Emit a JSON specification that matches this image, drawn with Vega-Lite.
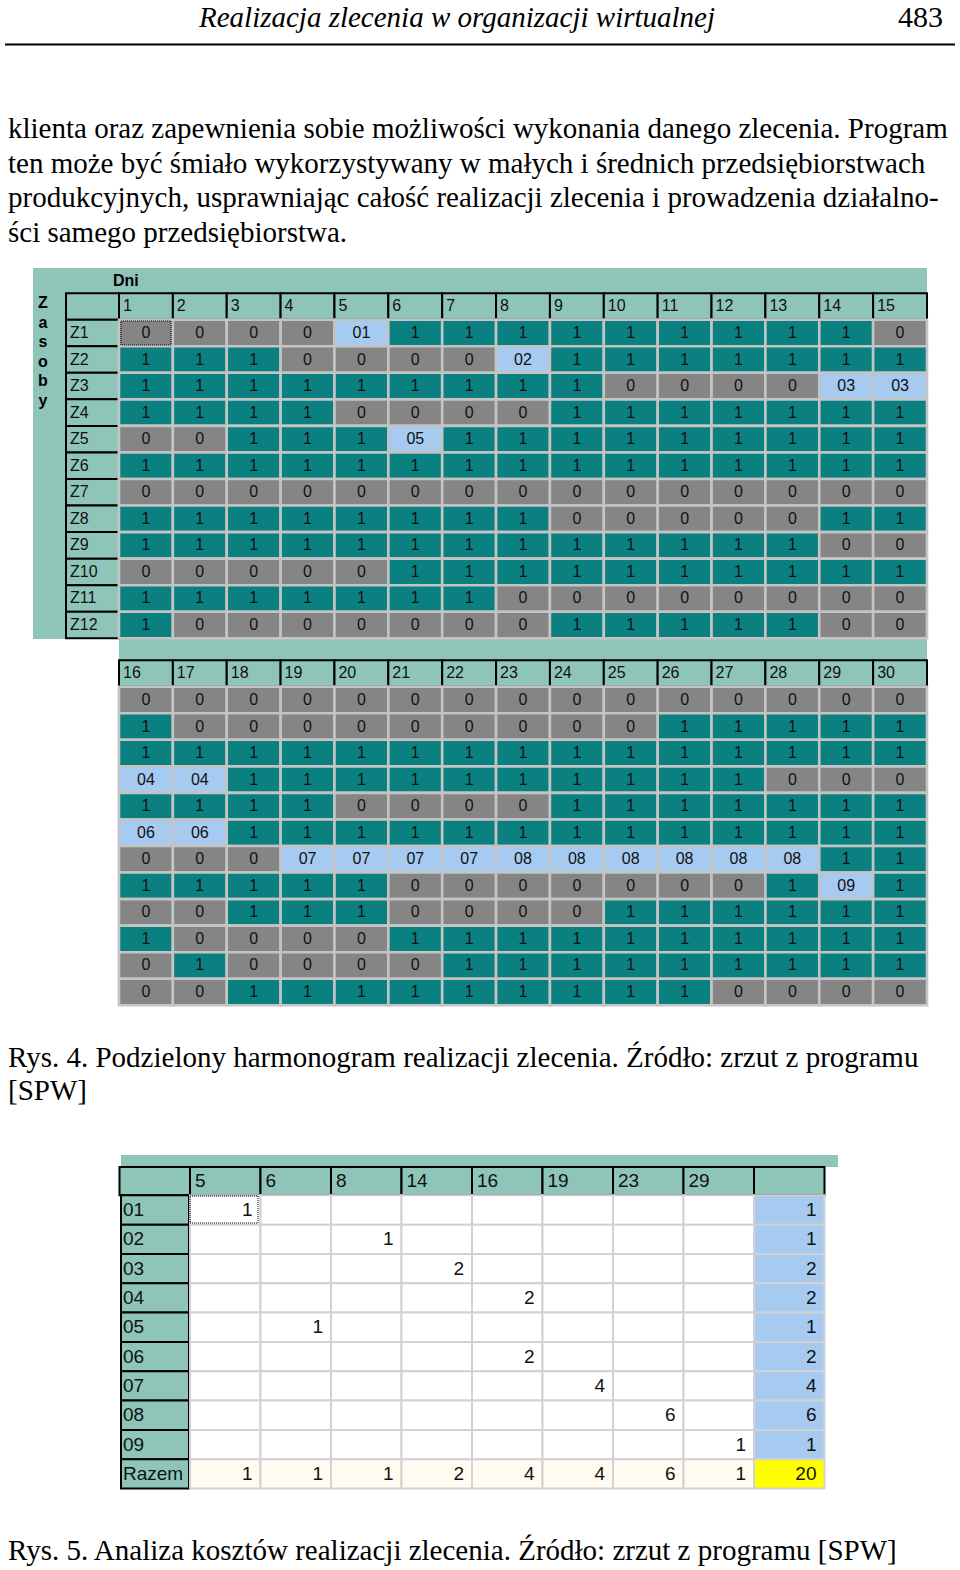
{
"$schema": "https://vega.github.io/schema/vega-lite/v6.json",
"width": 960, "height": 1570,
"autosize": {"type": "fit", "contains": "padding"},
"padding": 0,
"background": "#ffffff",
"config": {"view": {"stroke": null}, "axis": {"disable": true}, "legend": {"disable": true}, "text": {"font": "Liberation Sans"}},
"resolve": {"scale": {"x": "independent", "y": "independent"}},
"datasets": {
"para": [
{"n": 1, "t": "klienta oraz zapewnienia sobie możliwości wykonania danego zlecenia. Program"},
{"n": 2, "t": "ten może być śmiało wykorzystywany w małych i średnich przedsiębiorstwach"},
{"n": 3, "t": "produkcyjnych, usprawniając całość realizacji zlecenia i prowadzenia działalno-"},
{"n": 4, "t": "ści samego przedsiębiorstwa."}
],
"cap4": [
{"n": 1, "t": "Rys. 4. Podzielony harmonogram realizacji zlecenia. Źródło: zrzut z programu"},
{"n": 2, "t": "[SPW]"}
],
"zasoby": [{"i": 1, "ch": "Z"}, {"i": 2, "ch": "a"}, {"i": 3, "ch": "s"}, {"i": 4, "ch": "o"}, {"i": 5, "ch": "b"}, {"i": 6, "ch": "y"}],
"sched": [
{"res":"Z1","day":1,"val":"0"},{"res":"Z1","day":2,"val":"0"},{"res":"Z1","day":3,"val":"0"},{"res":"Z1","day":4,"val":"0"},{"res":"Z1","day":5,"val":"01"},{"res":"Z1","day":6,"val":"1"},{"res":"Z1","day":7,"val":"1"},{"res":"Z1","day":8,"val":"1"},{"res":"Z1","day":9,"val":"1"},{"res":"Z1","day":10,"val":"1"},{"res":"Z1","day":11,"val":"1"},{"res":"Z1","day":12,"val":"1"},{"res":"Z1","day":13,"val":"1"},{"res":"Z1","day":14,"val":"1"},{"res":"Z1","day":15,"val":"0"},
{"res":"Z1","day":16,"val":"0"},{"res":"Z1","day":17,"val":"0"},{"res":"Z1","day":18,"val":"0"},{"res":"Z1","day":19,"val":"0"},{"res":"Z1","day":20,"val":"0"},{"res":"Z1","day":21,"val":"0"},{"res":"Z1","day":22,"val":"0"},{"res":"Z1","day":23,"val":"0"},{"res":"Z1","day":24,"val":"0"},{"res":"Z1","day":25,"val":"0"},{"res":"Z1","day":26,"val":"0"},{"res":"Z1","day":27,"val":"0"},{"res":"Z1","day":28,"val":"0"},{"res":"Z1","day":29,"val":"0"},{"res":"Z1","day":30,"val":"0"},
{"res":"Z2","day":1,"val":"1"},{"res":"Z2","day":2,"val":"1"},{"res":"Z2","day":3,"val":"1"},{"res":"Z2","day":4,"val":"0"},{"res":"Z2","day":5,"val":"0"},{"res":"Z2","day":6,"val":"0"},{"res":"Z2","day":7,"val":"0"},{"res":"Z2","day":8,"val":"02"},{"res":"Z2","day":9,"val":"1"},{"res":"Z2","day":10,"val":"1"},{"res":"Z2","day":11,"val":"1"},{"res":"Z2","day":12,"val":"1"},{"res":"Z2","day":13,"val":"1"},{"res":"Z2","day":14,"val":"1"},{"res":"Z2","day":15,"val":"1"},
{"res":"Z2","day":16,"val":"1"},{"res":"Z2","day":17,"val":"0"},{"res":"Z2","day":18,"val":"0"},{"res":"Z2","day":19,"val":"0"},{"res":"Z2","day":20,"val":"0"},{"res":"Z2","day":21,"val":"0"},{"res":"Z2","day":22,"val":"0"},{"res":"Z2","day":23,"val":"0"},{"res":"Z2","day":24,"val":"0"},{"res":"Z2","day":25,"val":"0"},{"res":"Z2","day":26,"val":"1"},{"res":"Z2","day":27,"val":"1"},{"res":"Z2","day":28,"val":"1"},{"res":"Z2","day":29,"val":"1"},{"res":"Z2","day":30,"val":"1"},
{"res":"Z3","day":1,"val":"1"},{"res":"Z3","day":2,"val":"1"},{"res":"Z3","day":3,"val":"1"},{"res":"Z3","day":4,"val":"1"},{"res":"Z3","day":5,"val":"1"},{"res":"Z3","day":6,"val":"1"},{"res":"Z3","day":7,"val":"1"},{"res":"Z3","day":8,"val":"1"},{"res":"Z3","day":9,"val":"1"},{"res":"Z3","day":10,"val":"0"},{"res":"Z3","day":11,"val":"0"},{"res":"Z3","day":12,"val":"0"},{"res":"Z3","day":13,"val":"0"},{"res":"Z3","day":14,"val":"03"},{"res":"Z3","day":15,"val":"03"},
{"res":"Z3","day":16,"val":"1"},{"res":"Z3","day":17,"val":"1"},{"res":"Z3","day":18,"val":"1"},{"res":"Z3","day":19,"val":"1"},{"res":"Z3","day":20,"val":"1"},{"res":"Z3","day":21,"val":"1"},{"res":"Z3","day":22,"val":"1"},{"res":"Z3","day":23,"val":"1"},{"res":"Z3","day":24,"val":"1"},{"res":"Z3","day":25,"val":"1"},{"res":"Z3","day":26,"val":"1"},{"res":"Z3","day":27,"val":"1"},{"res":"Z3","day":28,"val":"1"},{"res":"Z3","day":29,"val":"1"},{"res":"Z3","day":30,"val":"1"},
{"res":"Z4","day":1,"val":"1"},{"res":"Z4","day":2,"val":"1"},{"res":"Z4","day":3,"val":"1"},{"res":"Z4","day":4,"val":"1"},{"res":"Z4","day":5,"val":"0"},{"res":"Z4","day":6,"val":"0"},{"res":"Z4","day":7,"val":"0"},{"res":"Z4","day":8,"val":"0"},{"res":"Z4","day":9,"val":"1"},{"res":"Z4","day":10,"val":"1"},{"res":"Z4","day":11,"val":"1"},{"res":"Z4","day":12,"val":"1"},{"res":"Z4","day":13,"val":"1"},{"res":"Z4","day":14,"val":"1"},{"res":"Z4","day":15,"val":"1"},
{"res":"Z4","day":16,"val":"04"},{"res":"Z4","day":17,"val":"04"},{"res":"Z4","day":18,"val":"1"},{"res":"Z4","day":19,"val":"1"},{"res":"Z4","day":20,"val":"1"},{"res":"Z4","day":21,"val":"1"},{"res":"Z4","day":22,"val":"1"},{"res":"Z4","day":23,"val":"1"},{"res":"Z4","day":24,"val":"1"},{"res":"Z4","day":25,"val":"1"},{"res":"Z4","day":26,"val":"1"},{"res":"Z4","day":27,"val":"1"},{"res":"Z4","day":28,"val":"0"},{"res":"Z4","day":29,"val":"0"},{"res":"Z4","day":30,"val":"0"},
{"res":"Z5","day":1,"val":"0"},{"res":"Z5","day":2,"val":"0"},{"res":"Z5","day":3,"val":"1"},{"res":"Z5","day":4,"val":"1"},{"res":"Z5","day":5,"val":"1"},{"res":"Z5","day":6,"val":"05"},{"res":"Z5","day":7,"val":"1"},{"res":"Z5","day":8,"val":"1"},{"res":"Z5","day":9,"val":"1"},{"res":"Z5","day":10,"val":"1"},{"res":"Z5","day":11,"val":"1"},{"res":"Z5","day":12,"val":"1"},{"res":"Z5","day":13,"val":"1"},{"res":"Z5","day":14,"val":"1"},{"res":"Z5","day":15,"val":"1"},
{"res":"Z5","day":16,"val":"1"},{"res":"Z5","day":17,"val":"1"},{"res":"Z5","day":18,"val":"1"},{"res":"Z5","day":19,"val":"1"},{"res":"Z5","day":20,"val":"0"},{"res":"Z5","day":21,"val":"0"},{"res":"Z5","day":22,"val":"0"},{"res":"Z5","day":23,"val":"0"},{"res":"Z5","day":24,"val":"1"},{"res":"Z5","day":25,"val":"1"},{"res":"Z5","day":26,"val":"1"},{"res":"Z5","day":27,"val":"1"},{"res":"Z5","day":28,"val":"1"},{"res":"Z5","day":29,"val":"1"},{"res":"Z5","day":30,"val":"1"},
{"res":"Z6","day":1,"val":"1"},{"res":"Z6","day":2,"val":"1"},{"res":"Z6","day":3,"val":"1"},{"res":"Z6","day":4,"val":"1"},{"res":"Z6","day":5,"val":"1"},{"res":"Z6","day":6,"val":"1"},{"res":"Z6","day":7,"val":"1"},{"res":"Z6","day":8,"val":"1"},{"res":"Z6","day":9,"val":"1"},{"res":"Z6","day":10,"val":"1"},{"res":"Z6","day":11,"val":"1"},{"res":"Z6","day":12,"val":"1"},{"res":"Z6","day":13,"val":"1"},{"res":"Z6","day":14,"val":"1"},{"res":"Z6","day":15,"val":"1"},
{"res":"Z6","day":16,"val":"06"},{"res":"Z6","day":17,"val":"06"},{"res":"Z6","day":18,"val":"1"},{"res":"Z6","day":19,"val":"1"},{"res":"Z6","day":20,"val":"1"},{"res":"Z6","day":21,"val":"1"},{"res":"Z6","day":22,"val":"1"},{"res":"Z6","day":23,"val":"1"},{"res":"Z6","day":24,"val":"1"},{"res":"Z6","day":25,"val":"1"},{"res":"Z6","day":26,"val":"1"},{"res":"Z6","day":27,"val":"1"},{"res":"Z6","day":28,"val":"1"},{"res":"Z6","day":29,"val":"1"},{"res":"Z6","day":30,"val":"1"},
{"res":"Z7","day":1,"val":"0"},{"res":"Z7","day":2,"val":"0"},{"res":"Z7","day":3,"val":"0"},{"res":"Z7","day":4,"val":"0"},{"res":"Z7","day":5,"val":"0"},{"res":"Z7","day":6,"val":"0"},{"res":"Z7","day":7,"val":"0"},{"res":"Z7","day":8,"val":"0"},{"res":"Z7","day":9,"val":"0"},{"res":"Z7","day":10,"val":"0"},{"res":"Z7","day":11,"val":"0"},{"res":"Z7","day":12,"val":"0"},{"res":"Z7","day":13,"val":"0"},{"res":"Z7","day":14,"val":"0"},{"res":"Z7","day":15,"val":"0"},
{"res":"Z7","day":16,"val":"0"},{"res":"Z7","day":17,"val":"0"},{"res":"Z7","day":18,"val":"0"},{"res":"Z7","day":19,"val":"07"},{"res":"Z7","day":20,"val":"07"},{"res":"Z7","day":21,"val":"07"},{"res":"Z7","day":22,"val":"07"},{"res":"Z7","day":23,"val":"08"},{"res":"Z7","day":24,"val":"08"},{"res":"Z7","day":25,"val":"08"},{"res":"Z7","day":26,"val":"08"},{"res":"Z7","day":27,"val":"08"},{"res":"Z7","day":28,"val":"08"},{"res":"Z7","day":29,"val":"1"},{"res":"Z7","day":30,"val":"1"},
{"res":"Z8","day":1,"val":"1"},{"res":"Z8","day":2,"val":"1"},{"res":"Z8","day":3,"val":"1"},{"res":"Z8","day":4,"val":"1"},{"res":"Z8","day":5,"val":"1"},{"res":"Z8","day":6,"val":"1"},{"res":"Z8","day":7,"val":"1"},{"res":"Z8","day":8,"val":"1"},{"res":"Z8","day":9,"val":"0"},{"res":"Z8","day":10,"val":"0"},{"res":"Z8","day":11,"val":"0"},{"res":"Z8","day":12,"val":"0"},{"res":"Z8","day":13,"val":"0"},{"res":"Z8","day":14,"val":"1"},{"res":"Z8","day":15,"val":"1"},
{"res":"Z8","day":16,"val":"1"},{"res":"Z8","day":17,"val":"1"},{"res":"Z8","day":18,"val":"1"},{"res":"Z8","day":19,"val":"1"},{"res":"Z8","day":20,"val":"1"},{"res":"Z8","day":21,"val":"0"},{"res":"Z8","day":22,"val":"0"},{"res":"Z8","day":23,"val":"0"},{"res":"Z8","day":24,"val":"0"},{"res":"Z8","day":25,"val":"0"},{"res":"Z8","day":26,"val":"0"},{"res":"Z8","day":27,"val":"0"},{"res":"Z8","day":28,"val":"1"},{"res":"Z8","day":29,"val":"09"},{"res":"Z8","day":30,"val":"1"},
{"res":"Z9","day":1,"val":"1"},{"res":"Z9","day":2,"val":"1"},{"res":"Z9","day":3,"val":"1"},{"res":"Z9","day":4,"val":"1"},{"res":"Z9","day":5,"val":"1"},{"res":"Z9","day":6,"val":"1"},{"res":"Z9","day":7,"val":"1"},{"res":"Z9","day":8,"val":"1"},{"res":"Z9","day":9,"val":"1"},{"res":"Z9","day":10,"val":"1"},{"res":"Z9","day":11,"val":"1"},{"res":"Z9","day":12,"val":"1"},{"res":"Z9","day":13,"val":"1"},{"res":"Z9","day":14,"val":"0"},{"res":"Z9","day":15,"val":"0"},
{"res":"Z9","day":16,"val":"0"},{"res":"Z9","day":17,"val":"0"},{"res":"Z9","day":18,"val":"1"},{"res":"Z9","day":19,"val":"1"},{"res":"Z9","day":20,"val":"1"},{"res":"Z9","day":21,"val":"0"},{"res":"Z9","day":22,"val":"0"},{"res":"Z9","day":23,"val":"0"},{"res":"Z9","day":24,"val":"0"},{"res":"Z9","day":25,"val":"1"},{"res":"Z9","day":26,"val":"1"},{"res":"Z9","day":27,"val":"1"},{"res":"Z9","day":28,"val":"1"},{"res":"Z9","day":29,"val":"1"},{"res":"Z9","day":30,"val":"1"},
{"res":"Z10","day":1,"val":"0"},{"res":"Z10","day":2,"val":"0"},{"res":"Z10","day":3,"val":"0"},{"res":"Z10","day":4,"val":"0"},{"res":"Z10","day":5,"val":"0"},{"res":"Z10","day":6,"val":"1"},{"res":"Z10","day":7,"val":"1"},{"res":"Z10","day":8,"val":"1"},{"res":"Z10","day":9,"val":"1"},{"res":"Z10","day":10,"val":"1"},{"res":"Z10","day":11,"val":"1"},{"res":"Z10","day":12,"val":"1"},{"res":"Z10","day":13,"val":"1"},{"res":"Z10","day":14,"val":"1"},{"res":"Z10","day":15,"val":"1"},
{"res":"Z10","day":16,"val":"1"},{"res":"Z10","day":17,"val":"0"},{"res":"Z10","day":18,"val":"0"},{"res":"Z10","day":19,"val":"0"},{"res":"Z10","day":20,"val":"0"},{"res":"Z10","day":21,"val":"1"},{"res":"Z10","day":22,"val":"1"},{"res":"Z10","day":23,"val":"1"},{"res":"Z10","day":24,"val":"1"},{"res":"Z10","day":25,"val":"1"},{"res":"Z10","day":26,"val":"1"},{"res":"Z10","day":27,"val":"1"},{"res":"Z10","day":28,"val":"1"},{"res":"Z10","day":29,"val":"1"},{"res":"Z10","day":30,"val":"1"},
{"res":"Z11","day":1,"val":"1"},{"res":"Z11","day":2,"val":"1"},{"res":"Z11","day":3,"val":"1"},{"res":"Z11","day":4,"val":"1"},{"res":"Z11","day":5,"val":"1"},{"res":"Z11","day":6,"val":"1"},{"res":"Z11","day":7,"val":"1"},{"res":"Z11","day":8,"val":"0"},{"res":"Z11","day":9,"val":"0"},{"res":"Z11","day":10,"val":"0"},{"res":"Z11","day":11,"val":"0"},{"res":"Z11","day":12,"val":"0"},{"res":"Z11","day":13,"val":"0"},{"res":"Z11","day":14,"val":"0"},{"res":"Z11","day":15,"val":"0"},
{"res":"Z11","day":16,"val":"0"},{"res":"Z11","day":17,"val":"1"},{"res":"Z11","day":18,"val":"0"},{"res":"Z11","day":19,"val":"0"},{"res":"Z11","day":20,"val":"0"},{"res":"Z11","day":21,"val":"0"},{"res":"Z11","day":22,"val":"1"},{"res":"Z11","day":23,"val":"1"},{"res":"Z11","day":24,"val":"1"},{"res":"Z11","day":25,"val":"1"},{"res":"Z11","day":26,"val":"1"},{"res":"Z11","day":27,"val":"1"},{"res":"Z11","day":28,"val":"1"},{"res":"Z11","day":29,"val":"1"},{"res":"Z11","day":30,"val":"1"},
{"res":"Z12","day":1,"val":"1"},{"res":"Z12","day":2,"val":"0"},{"res":"Z12","day":3,"val":"0"},{"res":"Z12","day":4,"val":"0"},{"res":"Z12","day":5,"val":"0"},{"res":"Z12","day":6,"val":"0"},{"res":"Z12","day":7,"val":"0"},{"res":"Z12","day":8,"val":"0"},{"res":"Z12","day":9,"val":"1"},{"res":"Z12","day":10,"val":"1"},{"res":"Z12","day":11,"val":"1"},{"res":"Z12","day":12,"val":"1"},{"res":"Z12","day":13,"val":"1"},{"res":"Z12","day":14,"val":"0"},{"res":"Z12","day":15,"val":"0"},
{"res":"Z12","day":16,"val":"0"},{"res":"Z12","day":17,"val":"0"},{"res":"Z12","day":18,"val":"1"},{"res":"Z12","day":19,"val":"1"},{"res":"Z12","day":20,"val":"1"},{"res":"Z12","day":21,"val":"1"},{"res":"Z12","day":22,"val":"1"},{"res":"Z12","day":23,"val":"1"},{"res":"Z12","day":24,"val":"1"},{"res":"Z12","day":25,"val":"1"},{"res":"Z12","day":26,"val":"1"},{"res":"Z12","day":27,"val":"0"},{"res":"Z12","day":28,"val":"0"},{"res":"Z12","day":29,"val":"0"},{"res":"Z12","day":30,"val":"0"}
],
"hdr3": [
{"row":"hdr","col":"L","lab":""},{"row":"hdr","col":"5","lab":"5"},{"row":"hdr","col":"6","lab":"6"},{"row":"hdr","col":"8","lab":"8"},{"row":"hdr","col":"14","lab":"14"},{"row":"hdr","col":"16","lab":"16"},{"row":"hdr","col":"19","lab":"19"},{"row":"hdr","col":"23","lab":"23"},{"row":"hdr","col":"29","lab":"29"},{"row":"hdr","col":"suma","lab":""}
],
"rows3": [
{"row":"01","col":"L"},{"row":"02","col":"L"},{"row":"03","col":"L"},{"row":"04","col":"L"},{"row":"05","col":"L"},{"row":"06","col":"L"},{"row":"07","col":"L"},{"row":"08","col":"L"},{"row":"09","col":"L"},{"row":"Razem","col":"L"}
],
"cost": [
{"row":"01","col":"5","v":1},{"row":"01","col":"6"},{"row":"01","col":"8"},{"row":"01","col":"14"},{"row":"01","col":"16"},{"row":"01","col":"19"},{"row":"01","col":"23"},{"row":"01","col":"29"},{"row":"01","col":"suma","v":1},
{"row":"02","col":"5"},{"row":"02","col":"6"},{"row":"02","col":"8","v":1},{"row":"02","col":"14"},{"row":"02","col":"16"},{"row":"02","col":"19"},{"row":"02","col":"23"},{"row":"02","col":"29"},{"row":"02","col":"suma","v":1},
{"row":"03","col":"5"},{"row":"03","col":"6"},{"row":"03","col":"8"},{"row":"03","col":"14","v":2},{"row":"03","col":"16"},{"row":"03","col":"19"},{"row":"03","col":"23"},{"row":"03","col":"29"},{"row":"03","col":"suma","v":2},
{"row":"04","col":"5"},{"row":"04","col":"6"},{"row":"04","col":"8"},{"row":"04","col":"14"},{"row":"04","col":"16","v":2},{"row":"04","col":"19"},{"row":"04","col":"23"},{"row":"04","col":"29"},{"row":"04","col":"suma","v":2},
{"row":"05","col":"5"},{"row":"05","col":"6","v":1},{"row":"05","col":"8"},{"row":"05","col":"14"},{"row":"05","col":"16"},{"row":"05","col":"19"},{"row":"05","col":"23"},{"row":"05","col":"29"},{"row":"05","col":"suma","v":1},
{"row":"06","col":"5"},{"row":"06","col":"6"},{"row":"06","col":"8"},{"row":"06","col":"14"},{"row":"06","col":"16","v":2},{"row":"06","col":"19"},{"row":"06","col":"23"},{"row":"06","col":"29"},{"row":"06","col":"suma","v":2},
{"row":"07","col":"5"},{"row":"07","col":"6"},{"row":"07","col":"8"},{"row":"07","col":"14"},{"row":"07","col":"16"},{"row":"07","col":"19","v":4},{"row":"07","col":"23"},{"row":"07","col":"29"},{"row":"07","col":"suma","v":4},
{"row":"08","col":"5"},{"row":"08","col":"6"},{"row":"08","col":"8"},{"row":"08","col":"14"},{"row":"08","col":"16"},{"row":"08","col":"19"},{"row":"08","col":"23","v":6},{"row":"08","col":"29"},{"row":"08","col":"suma","v":6},
{"row":"09","col":"5"},{"row":"09","col":"6"},{"row":"09","col":"8"},{"row":"09","col":"14"},{"row":"09","col":"16"},{"row":"09","col":"19"},{"row":"09","col":"23"},{"row":"09","col":"29","v":1},{"row":"09","col":"suma","v":1},
{"row":"Razem","col":"5","v":1},{"row":"Razem","col":"6","v":1},{"row":"Razem","col":"8","v":1},{"row":"Razem","col":"14","v":2},{"row":"Razem","col":"16","v":4},{"row":"Razem","col":"19","v":4},{"row":"Razem","col":"23","v":6},{"row":"Razem","col":"29","v":1},{"row":"Razem","col":"suma","v":20}
]
},
"layer": [
{"data": {"values": [{"k": "rule"}]}, "mark": {"type": "rect", "fill": "#000000"},
 "encoding": {"x": {"field": "k", "type": "nominal", "scale": {"type": "band", "range": [5, 955], "paddingInner": 0, "paddingOuter": 0}, "axis": null},
              "y": {"field": "k", "type": "nominal", "scale": {"type": "band", "range": [43.5, 45.5], "paddingInner": 0, "paddingOuter": 0}, "axis": null}}},
{"data": {"values": [{"t": "Realizacja zlecenia w organizacji wirtualnej"}]},
 "mark": {"type": "text", "font": "Liberation Serif", "fontStyle": "italic", "fontSize": 29, "align": "center", "baseline": "alphabetic", "fill": "#000000"},
 "encoding": {"text": {"field": "t"},
              "x": {"field": "t", "type": "nominal", "scale": {"type": "point", "range": [457, 457], "padding": 0}, "axis": null},
              "y": {"field": "t", "type": "nominal", "scale": {"type": "point", "range": [27, 27], "padding": 0}, "axis": null}}},
{"data": {"values": [{"t": "483"}]},
 "mark": {"type": "text", "font": "Liberation Serif", "fontSize": 30, "align": "right", "baseline": "alphabetic", "fill": "#000000"},
 "encoding": {"text": {"field": "t"},
              "x": {"field": "t", "type": "nominal", "scale": {"type": "point", "range": [943, 943], "padding": 0}, "axis": null},
              "y": {"field": "t", "type": "nominal", "scale": {"type": "point", "range": [27, 27], "padding": 0}, "axis": null}}},
{"data": {"name": "para"},
 "mark": {"type": "text", "font": "Liberation Serif", "fontSize": 29, "align": "left", "baseline": "alphabetic", "fill": "#000000"},
 "encoding": {"text": {"field": "t"},
              "x": {"field": "n", "type": "ordinal", "scale": {"type": "point", "range": [8, 8], "padding": 0}, "axis": null},
              "y": {"field": "n", "type": "ordinal", "scale": {"type": "point", "domain": [1, 2, 3, 4], "range": [138, 241.5], "padding": 0}, "axis": null}}},
{"data": {"name": "cap4"},
 "mark": {"type": "text", "font": "Liberation Serif", "fontSize": 29, "align": "left", "baseline": "alphabetic", "fill": "#000000"},
 "encoding": {"text": {"field": "t"},
              "x": {"field": "n", "type": "ordinal", "scale": {"type": "point", "range": [8, 8], "padding": 0}, "axis": null},
              "y": {"field": "n", "type": "ordinal", "scale": {"type": "point", "domain": [1, 2], "range": [1067, 1100], "padding": 0}, "axis": null}}},
{"data": {"values": [{"t": "Rys. 5. Analiza kosztów realizacji zlecenia. Źródło: zrzut z programu [SPW]"}]},
 "mark": {"type": "text", "font": "Liberation Serif", "fontSize": 29, "align": "left", "baseline": "alphabetic", "fill": "#000000"},
 "encoding": {"text": {"field": "t"},
              "x": {"field": "t", "type": "nominal", "scale": {"type": "point", "range": [8, 8], "padding": 0}, "axis": null},
              "y": {"field": "t", "type": "nominal", "scale": {"type": "point", "range": [1560, 1560], "padding": 0}, "axis": null}}},

{"data": {"values": [{"k": "g1"}]}, "mark": {"type": "rect", "fill": "#8fc5b9"},
 "encoding": {"x": {"field": "k", "type": "nominal", "scale": {"type": "band", "range": [33, 927], "paddingInner": 0, "paddingOuter": 0}, "axis": null},
              "y": {"field": "k", "type": "nominal", "scale": {"type": "band", "range": [268, 639], "paddingInner": 0, "paddingOuter": 0}, "axis": null}}},
{"data": {"values": [{"k": "g2"}]}, "mark": {"type": "rect", "fill": "#8fc5b9"},
 "encoding": {"x": {"field": "k", "type": "nominal", "scale": {"type": "band", "range": [119, 927], "paddingInner": 0, "paddingOuter": 0}, "axis": null},
              "y": {"field": "k", "type": "nominal", "scale": {"type": "band", "range": [638, 661], "paddingInner": 0, "paddingOuter": 0}, "axis": null}}},
{"data": {"values": [{"k": "g3"}]}, "mark": {"type": "rect", "fill": "#8fc5b9"},
 "encoding": {"x": {"field": "k", "type": "nominal", "scale": {"type": "band", "range": [121, 838], "paddingInner": 0, "paddingOuter": 0}, "axis": null},
              "y": {"field": "k", "type": "nominal", "scale": {"type": "band", "range": [1155, 1167], "paddingInner": 0, "paddingOuter": 0}, "axis": null}}},

{"data": {"values": [{"t": "Dni"}]},
 "mark": {"type": "text", "fontSize": 16, "fontWeight": "bold", "align": "left", "baseline": "alphabetic", "fill": "#000000"},
 "encoding": {"text": {"field": "t"},
              "x": {"field": "t", "type": "nominal", "scale": {"type": "point", "range": [113, 113], "padding": 0}, "axis": null},
              "y": {"field": "t", "type": "nominal", "scale": {"type": "point", "range": [286, 286], "padding": 0}, "axis": null}}},
{"data": {"name": "zasoby"},
 "mark": {"type": "text", "fontSize": 16, "fontWeight": "bold", "align": "center", "baseline": "middle", "fill": "#000000"},
 "encoding": {"text": {"field": "ch"},
              "x": {"field": "ch", "type": "nominal", "scale": {"type": "point", "range": [43, 43], "padding": 0}, "axis": null},
              "y": {"field": "i", "type": "ordinal", "scale": {"type": "point", "domain": [1, 2, 3, 4, 5, 6], "range": [303, 401], "padding": 0}, "axis": null}}},

{"data": {"values": [{"k": "corner"}]}, "mark": {"type": "rect", "fill": "#8fc5b9", "stroke": "#000000", "strokeWidth": 2},
 "encoding": {"x": {"field": "k", "type": "nominal", "scale": {"type": "band", "range": [66, 119], "paddingInner": 0, "paddingOuter": 0}, "axis": null},
              "y": {"field": "k", "type": "nominal", "scale": {"type": "band", "range": [293.2, 319.7], "paddingInner": 0, "paddingOuter": 0}, "axis": null}}},
{"data": {"name": "sched"}, "transform": [{"filter": "datum.day === 1"}],
 "mark": {"type": "rect", "fill": "#8fc5b9", "stroke": "#000000", "strokeWidth": 2},
 "encoding": {"x": {"field": "day", "type": "ordinal", "scale": {"type": "band", "domain": [1], "range": [66, 119], "paddingInner": 0, "paddingOuter": 0}, "axis": null},
              "y": {"field": "res", "type": "nominal", "scale": {"type": "band", "domain": ["Z1","Z2","Z3","Z4","Z5","Z6","Z7","Z8","Z9","Z10","Z11","Z12"], "range": [319.7, 638.3], "paddingInner": 0, "paddingOuter": 0}, "axis": null}}},
{"data": {"name": "sched"}, "transform": [{"filter": "datum.day === 1"}],
 "mark": {"type": "text", "fontSize": 16, "align": "left", "baseline": "middle", "dx": 4, "fill": "#111111"},
 "encoding": {"text": {"field": "res"},
              "x": {"field": "day", "type": "ordinal", "bandPosition": 0, "scale": {"type": "band", "domain": [1], "range": [66, 119], "paddingInner": 0, "paddingOuter": 0}, "axis": null},
              "y": {"field": "res", "type": "nominal", "scale": {"type": "band", "domain": ["Z1","Z2","Z3","Z4","Z5","Z6","Z7","Z8","Z9","Z10","Z11","Z12"], "range": [319.7, 638.3], "paddingInner": 0, "paddingOuter": 0}, "axis": null}}},
{"data": {"name": "sched"}, "transform": [{"filter": "datum.res === 'Z1' && datum.day <= 15"}],
 "mark": {"type": "rect", "fill": "#8fc5b9", "stroke": "#000000", "strokeWidth": 2},
 "encoding": {"x": {"field": "day", "type": "ordinal", "scale": {"type": "band", "domain": [1,2,3,4,5,6,7,8,9,10,11,12,13,14,15], "range": [119, 927], "paddingInner": 0, "paddingOuter": 0}, "axis": null},
              "y": {"field": "res", "type": "nominal", "scale": {"type": "band", "domain": ["Z1"], "range": [293.2, 319.7], "paddingInner": 0, "paddingOuter": 0}, "axis": null}}},
{"data": {"name": "sched"}, "transform": [{"filter": "datum.res === 'Z1' && datum.day <= 15"}],
 "mark": {"type": "text", "fontSize": 16, "align": "left", "baseline": "middle", "dx": 4, "fill": "#111111"},
 "encoding": {"text": {"field": "day"},
              "x": {"field": "day", "type": "ordinal", "bandPosition": 0, "scale": {"type": "band", "domain": [1,2,3,4,5,6,7,8,9,10,11,12,13,14,15], "range": [119, 927], "paddingInner": 0, "paddingOuter": 0}, "axis": null},
              "y": {"field": "res", "type": "nominal", "scale": {"type": "band", "domain": ["Z1"], "range": [293.2, 319.7], "paddingInner": 0, "paddingOuter": 0}, "axis": null}}},
{"data": {"name": "sched"}, "transform": [{"filter": "datum.day <= 15"}],
 "mark": {"type": "rect", "stroke": "#c4c4c4", "strokeWidth": 2.6},
 "encoding": {"fill": {"condition": [{"test": "datum.val === '0'", "value": "#858585"}, {"test": "datum.val === '1'", "value": "#0b8080"}], "value": "#a6caf0"},
              "x": {"field": "day", "type": "ordinal", "scale": {"type": "band", "domain": [1,2,3,4,5,6,7,8,9,10,11,12,13,14,15], "range": [119, 927], "paddingInner": 0, "paddingOuter": 0}, "axis": null},
              "y": {"field": "res", "type": "nominal", "scale": {"type": "band", "domain": ["Z1","Z2","Z3","Z4","Z5","Z6","Z7","Z8","Z9","Z10","Z11","Z12"], "range": [319.7, 638.3], "paddingInner": 0, "paddingOuter": 0}, "axis": null}}},
{"data": {"name": "sched"}, "transform": [{"filter": "datum.day <= 15"}],
 "mark": {"type": "text", "fontSize": 16, "align": "center", "baseline": "middle", "fill": "#111111"},
 "encoding": {"text": {"field": "val"},
              "x": {"field": "day", "type": "ordinal", "scale": {"type": "band", "domain": [1,2,3,4,5,6,7,8,9,10,11,12,13,14,15], "range": [119, 927], "paddingInner": 0, "paddingOuter": 0}, "axis": null},
              "y": {"field": "res", "type": "nominal", "scale": {"type": "band", "domain": ["Z1","Z2","Z3","Z4","Z5","Z6","Z7","Z8","Z9","Z10","Z11","Z12"], "range": [319.7, 638.3], "paddingInner": 0, "paddingOuter": 0}, "axis": null}}},
{"data": {"name": "sched"}, "transform": [{"filter": "datum.day === 1 && datum.res === 'Z1'"}],
 "mark": {"type": "rect", "fill": "transparent", "stroke": "#000000", "strokeWidth": 1, "strokeDash": [1, 1]},
 "encoding": {"x": {"field": "day", "type": "ordinal", "scale": {"type": "band", "domain": [1], "range": [121, 171], "paddingInner": 0, "paddingOuter": 0}, "axis": null},
              "y": {"field": "res", "type": "nominal", "scale": {"type": "band", "domain": ["Z1"], "range": [321, 345], "paddingInner": 0, "paddingOuter": 0}, "axis": null}}},

{"data": {"name": "sched"}, "transform": [{"filter": "datum.res === 'Z1' && datum.day > 15"}],
 "mark": {"type": "rect", "fill": "#8fc5b9", "stroke": "#000000", "strokeWidth": 2},
 "encoding": {"x": {"field": "day", "type": "ordinal", "scale": {"type": "band", "domain": [16,17,18,19,20,21,22,23,24,25,26,27,28,29,30], "range": [119, 927], "paddingInner": 0, "paddingOuter": 0}, "axis": null},
              "y": {"field": "res", "type": "nominal", "scale": {"type": "band", "domain": ["Z1"], "range": [660.2, 686.7], "paddingInner": 0, "paddingOuter": 0}, "axis": null}}},
{"data": {"name": "sched"}, "transform": [{"filter": "datum.res === 'Z1' && datum.day > 15"}],
 "mark": {"type": "text", "fontSize": 16, "align": "left", "baseline": "middle", "dx": 4, "fill": "#111111"},
 "encoding": {"text": {"field": "day"},
              "x": {"field": "day", "type": "ordinal", "bandPosition": 0, "scale": {"type": "band", "domain": [16,17,18,19,20,21,22,23,24,25,26,27,28,29,30], "range": [119, 927], "paddingInner": 0, "paddingOuter": 0}, "axis": null},
              "y": {"field": "res", "type": "nominal", "scale": {"type": "band", "domain": ["Z1"], "range": [660.2, 686.7], "paddingInner": 0, "paddingOuter": 0}, "axis": null}}},
{"data": {"name": "sched"}, "transform": [{"filter": "datum.day > 15"}],
 "mark": {"type": "rect", "stroke": "#c4c4c4", "strokeWidth": 2.6},
 "encoding": {"fill": {"condition": [{"test": "datum.val === '0'", "value": "#858585"}, {"test": "datum.val === '1'", "value": "#0b8080"}], "value": "#a6caf0"},
              "x": {"field": "day", "type": "ordinal", "scale": {"type": "band", "domain": [16,17,18,19,20,21,22,23,24,25,26,27,28,29,30], "range": [119, 927], "paddingInner": 0, "paddingOuter": 0}, "axis": null},
              "y": {"field": "res", "type": "nominal", "scale": {"type": "band", "domain": ["Z1","Z2","Z3","Z4","Z5","Z6","Z7","Z8","Z9","Z10","Z11","Z12"], "range": [686.7, 1005.3], "paddingInner": 0, "paddingOuter": 0}, "axis": null}}},
{"data": {"name": "sched"}, "transform": [{"filter": "datum.day > 15"}],
 "mark": {"type": "text", "fontSize": 16, "align": "center", "baseline": "middle", "fill": "#111111"},
 "encoding": {"text": {"field": "val"},
              "x": {"field": "day", "type": "ordinal", "scale": {"type": "band", "domain": [16,17,18,19,20,21,22,23,24,25,26,27,28,29,30], "range": [119, 927], "paddingInner": 0, "paddingOuter": 0}, "axis": null},
              "y": {"field": "res", "type": "nominal", "scale": {"type": "band", "domain": ["Z1","Z2","Z3","Z4","Z5","Z6","Z7","Z8","Z9","Z10","Z11","Z12"], "range": [686.7, 1005.3], "paddingInner": 0, "paddingOuter": 0}, "axis": null}}},

{"data": {"name": "hdr3"},
 "mark": {"type": "rect", "fill": "#8fc5b9", "stroke": "#000000", "strokeWidth": 2},
 "encoding": {"x": {"field": "col", "type": "nominal", "scale": {"type": "band", "domain": ["L","5","6","8","14","16","19","23","29","suma"], "range": [119.5, 824.5], "paddingInner": 0, "paddingOuter": 0}, "axis": null},
              "y": {"field": "row", "type": "nominal", "scale": {"type": "band", "domain": ["hdr"], "range": [1167, 1195.3], "paddingInner": 0, "paddingOuter": 0}, "axis": null}}},
{"data": {"name": "hdr3"},
 "mark": {"type": "text", "fontSize": 19, "align": "left", "baseline": "middle", "dx": 5, "fill": "#111111"},
 "encoding": {"text": {"field": "lab"},
              "x": {"field": "col", "type": "nominal", "bandPosition": 0, "scale": {"type": "band", "domain": ["L","5","6","8","14","16","19","23","29","suma"], "range": [119.5, 824.5], "paddingInner": 0, "paddingOuter": 0}, "axis": null},
              "y": {"field": "row", "type": "nominal", "scale": {"type": "band", "domain": ["hdr"], "range": [1167, 1195.3], "paddingInner": 0, "paddingOuter": 0}, "axis": null}}},
{"data": {"name": "rows3"},
 "mark": {"type": "rect", "fill": "#8fc5b9", "stroke": "#000000", "strokeWidth": 2},
 "encoding": {"x": {"field": "col", "type": "nominal", "scale": {"type": "band", "domain": ["L"], "range": [121, 189], "paddingInner": 0, "paddingOuter": 0}, "axis": null},
              "y": {"field": "row", "type": "nominal", "scale": {"type": "band", "domain": ["01","02","03","04","05","06","07","08","09","Razem"], "range": [1195.3, 1488.6], "paddingInner": 0, "paddingOuter": 0}, "axis": null}}},
{"data": {"name": "rows3"},
 "mark": {"type": "text", "fontSize": 19, "align": "left", "baseline": "middle", "dx": 2, "fill": "#111111"},
 "encoding": {"text": {"field": "row"},
              "x": {"field": "col", "type": "nominal", "bandPosition": 0, "scale": {"type": "band", "domain": ["L"], "range": [121, 189], "paddingInner": 0, "paddingOuter": 0}, "axis": null},
              "y": {"field": "row", "type": "nominal", "scale": {"type": "band", "domain": ["01","02","03","04","05","06","07","08","09","Razem"], "range": [1195.3, 1488.6], "paddingInner": 0, "paddingOuter": 0}, "axis": null}}},
{"data": {"name": "cost"},
 "mark": {"type": "rect", "stroke": "#d2d2d2", "strokeWidth": 2},
 "encoding": {"fill": {"condition": [{"test": "datum.row === 'Razem' && datum.col === 'suma'", "value": "#ffff00"}, {"test": "datum.row === 'Razem'", "value": "#fffbf0"}, {"test": "datum.col === 'suma'", "value": "#a6caf0"}], "value": "#ffffff"},
              "x": {"field": "col", "type": "nominal", "scale": {"type": "band", "domain": ["5","6","8","14","16","19","23","29","suma"], "range": [190, 824.5], "paddingInner": 0, "paddingOuter": 0}, "axis": null},
              "y": {"field": "row", "type": "nominal", "scale": {"type": "band", "domain": ["01","02","03","04","05","06","07","08","09","Razem"], "range": [1195.3, 1488.6], "paddingInner": 0, "paddingOuter": 0}, "axis": null}}},
{"data": {"name": "cost"}, "transform": [{"filter": "isValid(datum.v)"}],
 "mark": {"type": "text", "fontSize": 19, "align": "right", "baseline": "middle", "dx": -8, "fill": "#111111"},
 "encoding": {"text": {"field": "v"},
              "x": {"field": "col", "type": "nominal", "bandPosition": 1, "scale": {"type": "band", "domain": ["5","6","8","14","16","19","23","29","suma"], "range": [190, 824.5], "paddingInner": 0, "paddingOuter": 0}, "axis": null},
              "y": {"field": "row", "type": "nominal", "scale": {"type": "band", "domain": ["01","02","03","04","05","06","07","08","09","Razem"], "range": [1195.3, 1488.6], "paddingInner": 0, "paddingOuter": 0}, "axis": null}}},
{"data": {"name": "cost"}, "transform": [{"filter": "datum.row === '01' && datum.col === '5'"}],
 "mark": {"type": "rect", "fill": "transparent", "stroke": "#000000", "strokeWidth": 1, "strokeDash": [1, 1]},
 "encoding": {"x": {"field": "col", "type": "nominal", "scale": {"type": "band", "domain": ["5"], "range": [190, 258], "paddingInner": 0, "paddingOuter": 0}, "axis": null},
              "y": {"field": "row", "type": "nominal", "scale": {"type": "band", "domain": ["01"], "range": [1196, 1223], "paddingInner": 0, "paddingOuter": 0}, "axis": null}}}
]
}
